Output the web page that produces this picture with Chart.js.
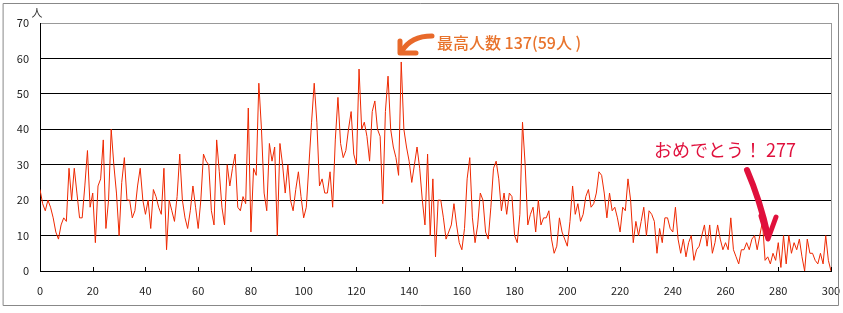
<!DOCTYPE html>
<html>
<head>
<meta charset="utf-8">
<script src="https://cdn.jsdelivr.net/npm/chart.js@4/dist/chart.umd.min.js"></script>
<style>
  html, body { margin: 0; padding: 0; background: #fff; }
  #wrap { width: 843px; height: 313px; }
</style>
</head>
<body>
<div id="wrap"><canvas id="grafico" width="843" height="313"></canvas></div>
<script>
// 人数（0〜300）
const counts = [
  23, 19, 17, 20, 18, 15, 11, 9, 13, 15, 14, 29, 20, 29, 22, 15, 15, 24, 34, 18, 22, 8, 24, 26, 37,
  12, 20, 40, 30, 22, 10, 25, 32, 20, 20, 15, 17, 24, 29, 20, 16, 20, 12, 23, 21, 18, 16, 29, 6, 20,
  17, 14, 21, 33, 20, 15, 12, 17, 24, 18, 12, 20, 33, 31, 30, 17, 13, 37, 28, 18, 13, 30, 24, 29, 33,
  18, 17, 21, 19, 46, 11, 29, 27, 53, 40, 22, 17, 36, 31, 35, 10, 36, 30, 22, 30, 20, 17, 23, 28, 21,
  15, 18, 30, 42, 53, 42, 24, 26, 22, 22, 28, 18, 37, 49, 36, 32, 34, 40, 45, 33, 30, 57, 40, 42, 38,
  31, 45, 48, 40, 38, 19, 45, 55, 40, 35, 32, 27, 59, 40, 35, 31, 25, 30, 35, 29, 20, 13, 33, 10, 26,
  4, 20, 20, 15, 9, 11, 13, 19, 13, 8, 6, 12, 26, 32, 15, 8, 13, 22, 20, 11, 9, 18, 29, 31, 26,
  17, 22, 16, 22, 21, 10, 8, 16, 42, 30, 13, 16, 18, 11, 20, 13, 15, 15, 17, 9, 5, 7, 15, 11, 9,
  7, 14, 24, 16, 19, 14, 16, 21, 23, 18, 19, 22, 28, 27, 22, 15, 22, 17, 18, 15, 11, 18, 17, 26, 20,
  8, 14, 10, 14, 18, 10, 17, 16, 14, 5, 12, 8, 15, 15, 12, 11, 18, 9, 5, 9, 4, 8, 10, 3, 6,
  7, 10, 13, 7, 13, 5, 8, 13, 9, 6, 8, 6, 15, 6, 4, 2, 6, 6, 8, 6, 9, 10, 6, 10, 14,
  3, 4, 2, 5, 3, 8, 1, 10, 2, 10, 5, 8, 6, 9, 4, 0, 9, 5, 5, 3, 2, 5, 2, 10, 3, 0
];
const xTicks = [0, 20, 40, 60, 80, 100, 120, 140, 160, 180, 200, 220, 240, 260, 280, 300];
const yTicks = [0, 10, 20, 30, 40, 50, 60, 70];
const yUnit = "人";
const maxNote = "最高人数 137(59人 )";
const goalNote = "おめでとう！ 277";

const FONT = "'Noto Sans CJK JP', 'Noto Sans', sans-serif";

// 枠・目盛り・注記を描く
const extras = {
  id: "extras",
  afterDatasetsDraw(chart) {
    const { ctx, chartArea, scales } = chart;
    ctx.save();
    // 右端の枠線
    ctx.strokeStyle = "#999";
    ctx.lineWidth = 1;
    ctx.beginPath();
    ctx.moveTo(chartArea.right + 0.5, chartArea.top);
    ctx.lineTo(chartArea.right + 0.5, chartArea.bottom);
    ctx.stroke();
    // 内側の目盛り
    ctx.strokeStyle = "#000";
    xTicks.forEach(v => {
      const px = Math.round(scales.x.getPixelForValue(v)) + 0.5;
      ctx.beginPath();
      ctx.moveTo(px, chartArea.bottom);
      ctx.lineTo(px, chartArea.bottom - 4);
      ctx.stroke();
    });
    // 単位
    ctx.fillStyle = "#333";
    ctx.font = "11px " + FONT;
    ctx.textAlign = "center";
    ctx.textBaseline = "middle";
    ctx.fillText(yUnit, 37, 13);
    // 最高人数
    ctx.fillStyle = "#e8732c";
    ctx.font = "500 16px " + FONT;
    ctx.textAlign = "left";
    ctx.fillText(maxNote, 437, 43);
    ctx.strokeStyle = "#e8692a";
    ctx.lineWidth = 5;
    ctx.lineCap = "round";
    ctx.lineJoin = "round";
    ctx.beginPath();
    ctx.moveTo(432, 36);
    ctx.quadraticCurveTo(411, 36, 402, 51);
    ctx.stroke();
    ctx.beginPath();
    ctx.moveTo(400, 41);
    ctx.lineTo(400, 53);
    ctx.lineTo(416, 53);
    ctx.stroke();
    // おめでとう
    ctx.fillStyle = "#e0103c";
    ctx.font = "18px " + FONT;
    ctx.fillText(goalNote, 654, 150);
    ctx.strokeStyle = "#e0103c";
    ctx.lineWidth = 6;
    ctx.beginPath();
    ctx.moveTo(747, 170);
    ctx.quadraticCurveTo(760, 200, 768, 236);
    ctx.stroke();
    ctx.lineWidth = 5;
    ctx.beginPath();
    ctx.moveTo(761, 216);
    ctx.lineTo(768, 239);
    ctx.lineTo(776, 217);
    ctx.stroke();
    // 外枠
    ctx.strokeStyle = "#888";
    ctx.lineWidth = 1;
    ctx.strokeRect(3.5, 3.5, 835, 302);
    ctx.restore();
  }
};

new Chart(document.getElementById("grafico"), {
  type: "line",
  data: {
    datasets: [{
      data: counts.map((v, i) => ({ x: i, y: v })),
      borderColor: "#ee2800",
      borderWidth: 1,
      pointRadius: 0,
      tension: 0,
      fill: false
    }]
  },
  options: {
    responsive: false,
    animation: false,
    layout: { padding: { top: 23, right: 12, left: 0, bottom: 0 } },
    plugins: { legend: { display: false }, tooltip: { enabled: false } },
    scales: {
      x: {
        type: "linear",
        min: 0,
        max: 300,
        afterFit: s => { s.height = 42; s.paddingLeft = 0; s.paddingRight = 0; },
        afterBuildTicks: s => { s.ticks = xTicks.map(v => ({ value: v })); },
        grid: { display: false, drawTicks: false },
        border: { display: true, color: "#000", width: 1 },
        ticks: { padding: 13, color: "#222", font: { size: 11, family: FONT }, maxRotation: 0 }
      },
      y: {
        min: 0,
        max: 70,
        afterFit: s => { s.width = 40; },
        afterBuildTicks: s => { s.ticks = yTicks.map(v => ({ value: v })); },
        grid: {
          drawTicks: false,
          color: c => (c.tick && c.tick.value === 70 ? "#999" : "#000"),
          lineWidth: 1
        },
        border: { display: true, color: "#000", width: 1 },
        ticks: { padding: 11, color: "#222", font: { size: 11, family: FONT } }
      }
    }
  },
  plugins: [extras]
});
</script>
</body>
</html>
